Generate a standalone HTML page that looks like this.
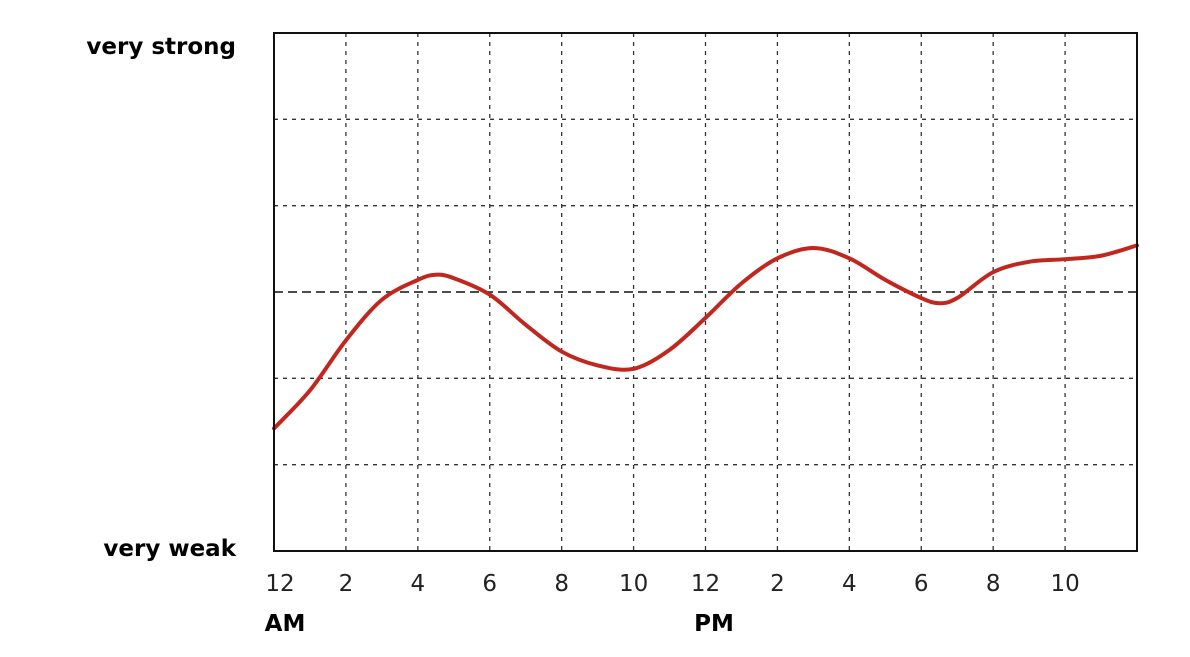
<!DOCTYPE html>
<html><head><meta charset="utf-8"><style>
body{margin:0;background:#fff;}
svg text{font-family:"DejaVu Sans","Liberation Sans",sans-serif;}
</style></head><body>
<svg id="chart" width="1190" height="652" xmlns="http://www.w3.org/2000/svg">
<g id="grid"></g>
<g id="xlabels"></g>
<text x="236" y="54" text-anchor="end" font-weight="bold" font-size="23">very strong</text>
<text x="236" y="556" text-anchor="end" font-weight="bold" font-size="23">very weak</text>
<text x="285" y="631" text-anchor="middle" font-weight="bold" font-size="23">AM</text>
<text x="714" y="631" text-anchor="middle" font-weight="bold" font-size="23">PM</text>
<path id="line" fill="none" stroke="#c0271f" stroke-width="4" stroke-linecap="round"/>
<rect x="274" y="33" width="863" height="518" fill="none" stroke="#111" stroke-width="2"/>
</svg>
<script>
const hours=[0,1,2,3,4,4.5,5,6,7,8,9,10,11,12,13,14,15,16,17,18,18.5,19,20,21,22,23,24];
const strength=[1.42,1.86,2.44,2.91,3.14,3.20,3.16,2.97,2.62,2.31,2.15,2.11,2.33,2.70,3.10,3.39,3.51,3.39,3.14,2.93,2.87,2.93,3.23,3.35,3.38,3.42,3.54];
const tickHours=[0,2,4,6,8,10,12,14,16,18,20,22];
const tickLabels=["12","2","4","6","8","10","12","2","4","6","8","10"];
const yGrid=[1,2,3,4,5];
const X0=274,X1=1137,Y0=551,Y1=33;
const xs=h=>X0+(X1-X0)*h/24;
const ys=v=>Y0-(Y0-Y1)*v/6;
const NS="http://www.w3.org/2000/svg";
const grid=document.getElementById('grid'),xl=document.getElementById('xlabels');
tickHours.forEach((h,i)=>{
 if(h>0){const l=document.createElementNS(NS,'line');
 
 
 l.setAttribute('x1',xs(h));l.setAttribute('x2',xs(h));l.setAttribute('y1',Y1);l.setAttribute('y2',Y0);
 l.setAttribute('stroke','#333');l.setAttribute('stroke-width','1.3');l.setAttribute('stroke-dasharray','4 5');grid.appendChild(l);}
 const t=document.createElementNS(NS,'text');
 
 
 t.setAttribute('x',xs(h)+(h===0?6:0));t.setAttribute('y',591);t.setAttribute('text-anchor','middle');t.setAttribute('font-size','23');t.setAttribute('fill','#222');
 t.textContent=tickLabels[i];xl.appendChild(t);
});
yGrid.forEach(v=>{const l=document.createElementNS(NS,'line');
 
 
 l.setAttribute('x1',X0);l.setAttribute('x2',X1);l.setAttribute('y1',ys(v));l.setAttribute('y2',ys(v));
 l.setAttribute('stroke','#333');l.setAttribute('stroke-width',v===3?'1.8':'1.3');l.setAttribute('stroke-dasharray',v===3?'9 5':'4 5');grid.appendChild(l);});
const pts=hours.map((h,i)=>[xs(h),ys(strength[i])]);
let d=`M${pts[0][0]},${pts[0][1]}`;
for(let i=0;i<pts.length-1;i++){
 const p0=pts[Math.max(0,i-1)],p1=pts[i],p2=pts[i+1],p3=pts[Math.min(pts.length-1,i+2)];
 const c1=[p1[0]+(p2[0]-p0[0])/6,p1[1]+(p2[1]-p0[1])/6],c2=[p2[0]-(p3[0]-p1[0])/6,p2[1]-(p3[1]-p1[1])/6];
 d+=` C${c1[0]},${c1[1]} ${c2[0]},${c2[1]} ${p2[0]},${p2[1]}`;
}
document.getElementById('line').setAttribute('d',d);
</script>
</body></html>
